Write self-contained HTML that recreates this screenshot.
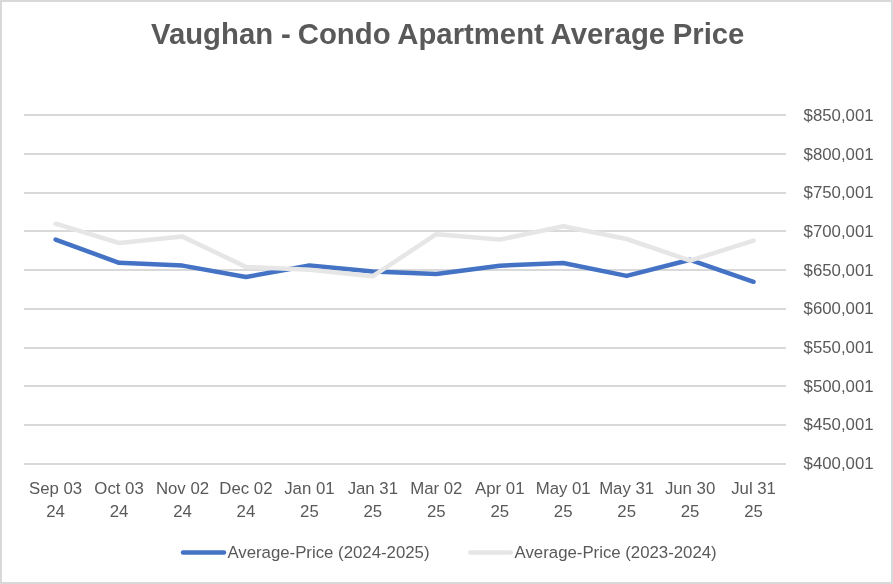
<!DOCTYPE html>
<html><head><meta charset="utf-8"><style>html,body{margin:0;padding:0;background:#fff;width:893px;height:584px;overflow:hidden}svg{display:block;will-change:transform}</style></head>
<body><svg width="893" height="584" viewBox="0 0 893 584"><rect x="0" y="0" width="893" height="584" fill="#d9d9d9"/><rect x="2" y="2" width="889" height="580" fill="#ffffff"/><text y="44" font-family='"Liberation Sans", sans-serif' font-weight="bold" font-size="29.3" fill="#595959"><tspan x="151.00">Vaughan </tspan><tspan x="281.10">- </tspan><tspan x="297.80">Condo </tspan><tspan x="397.30">Apartment </tspan><tspan x="550.60">Average </tspan><tspan x="672.70">Price </tspan></text><rect x="24" y="114" width="762" height="2" fill="#d9d9d9"/><rect x="24" y="153" width="762" height="2" fill="#d9d9d9"/><rect x="24" y="192" width="762" height="2" fill="#d9d9d9"/><rect x="24" y="230" width="762" height="2" fill="#d9d9d9"/><rect x="24" y="269" width="762" height="2" fill="#d9d9d9"/><rect x="24" y="308" width="762" height="2" fill="#d9d9d9"/><rect x="24" y="347" width="762" height="2" fill="#d9d9d9"/><rect x="24" y="385" width="762" height="2" fill="#d9d9d9"/><rect x="24" y="424" width="762" height="2" fill="#d9d9d9"/><rect x="24" y="463" width="762" height="2" fill="#d9d9d9"/><text x="803.6" y="120.90" font-family='"Liberation Sans", sans-serif' font-size="16.8" fill="#595959">$850,001</text><text x="803.6" y="159.56" font-family='"Liberation Sans", sans-serif' font-size="16.8" fill="#595959">$800,001</text><text x="803.6" y="198.22" font-family='"Liberation Sans", sans-serif' font-size="16.8" fill="#595959">$750,001</text><text x="803.6" y="236.88" font-family='"Liberation Sans", sans-serif' font-size="16.8" fill="#595959">$700,001</text><text x="803.6" y="275.54" font-family='"Liberation Sans", sans-serif' font-size="16.8" fill="#595959">$650,001</text><text x="803.6" y="314.20" font-family='"Liberation Sans", sans-serif' font-size="16.8" fill="#595959">$600,001</text><text x="803.6" y="352.86" font-family='"Liberation Sans", sans-serif' font-size="16.8" fill="#595959">$550,001</text><text x="803.6" y="391.52" font-family='"Liberation Sans", sans-serif' font-size="16.8" fill="#595959">$500,001</text><text x="803.6" y="430.18" font-family='"Liberation Sans", sans-serif' font-size="16.8" fill="#595959">$450,001</text><text x="803.6" y="468.84" font-family='"Liberation Sans", sans-serif' font-size="16.8" fill="#595959">$400,001</text><text x="55.60" y="494" text-anchor="middle" font-family='"Liberation Sans", sans-serif' font-size="16.8" fill="#595959">Sep 03</text><text x="55.60" y="516.6" text-anchor="middle" font-family='"Liberation Sans", sans-serif' font-size="16.8" fill="#595959">24</text><text x="119.05" y="494" text-anchor="middle" font-family='"Liberation Sans", sans-serif' font-size="16.8" fill="#595959">Oct 03</text><text x="119.05" y="516.6" text-anchor="middle" font-family='"Liberation Sans", sans-serif' font-size="16.8" fill="#595959">24</text><text x="182.50" y="494" text-anchor="middle" font-family='"Liberation Sans", sans-serif' font-size="16.8" fill="#595959">Nov 02</text><text x="182.50" y="516.6" text-anchor="middle" font-family='"Liberation Sans", sans-serif' font-size="16.8" fill="#595959">24</text><text x="245.95" y="494" text-anchor="middle" font-family='"Liberation Sans", sans-serif' font-size="16.8" fill="#595959">Dec 02</text><text x="245.95" y="516.6" text-anchor="middle" font-family='"Liberation Sans", sans-serif' font-size="16.8" fill="#595959">24</text><text x="309.40" y="494" text-anchor="middle" font-family='"Liberation Sans", sans-serif' font-size="16.8" fill="#595959">Jan 01</text><text x="309.40" y="516.6" text-anchor="middle" font-family='"Liberation Sans", sans-serif' font-size="16.8" fill="#595959">25</text><text x="372.85" y="494" text-anchor="middle" font-family='"Liberation Sans", sans-serif' font-size="16.8" fill="#595959">Jan 31</text><text x="372.85" y="516.6" text-anchor="middle" font-family='"Liberation Sans", sans-serif' font-size="16.8" fill="#595959">25</text><text x="436.30" y="494" text-anchor="middle" font-family='"Liberation Sans", sans-serif' font-size="16.8" fill="#595959">Mar 02</text><text x="436.30" y="516.6" text-anchor="middle" font-family='"Liberation Sans", sans-serif' font-size="16.8" fill="#595959">25</text><text x="499.75" y="494" text-anchor="middle" font-family='"Liberation Sans", sans-serif' font-size="16.8" fill="#595959">Apr 01</text><text x="499.75" y="516.6" text-anchor="middle" font-family='"Liberation Sans", sans-serif' font-size="16.8" fill="#595959">25</text><text x="563.20" y="494" text-anchor="middle" font-family='"Liberation Sans", sans-serif' font-size="16.8" fill="#595959">May 01</text><text x="563.20" y="516.6" text-anchor="middle" font-family='"Liberation Sans", sans-serif' font-size="16.8" fill="#595959">25</text><text x="626.65" y="494" text-anchor="middle" font-family='"Liberation Sans", sans-serif' font-size="16.8" fill="#595959">May 31</text><text x="626.65" y="516.6" text-anchor="middle" font-family='"Liberation Sans", sans-serif' font-size="16.8" fill="#595959">25</text><text x="690.10" y="494" text-anchor="middle" font-family='"Liberation Sans", sans-serif' font-size="16.8" fill="#595959">Jun 30</text><text x="690.10" y="516.6" text-anchor="middle" font-family='"Liberation Sans", sans-serif' font-size="16.8" fill="#595959">25</text><text x="753.55" y="494" text-anchor="middle" font-family='"Liberation Sans", sans-serif' font-size="16.8" fill="#595959">Jul 31</text><text x="753.55" y="516.6" text-anchor="middle" font-family='"Liberation Sans", sans-serif' font-size="16.8" fill="#595959">25</text><polyline points="55.60,239.60 119.05,262.80 182.50,265.60 245.95,277.00 309.40,265.50 372.85,271.40 436.30,274.00 499.75,265.70 563.20,263.00 626.65,275.90 690.10,259.80 753.55,281.80" fill="none" stroke="#4472c4" stroke-width="4.5" stroke-linecap="round" stroke-linejoin="round"/><polyline points="55.60,223.70 119.05,243.00 182.50,236.60 245.95,266.90 309.40,269.80 372.85,276.20 436.30,234.20 499.75,239.60 563.20,226.20 626.65,239.00 690.10,260.60 753.55,240.60" fill="none" stroke="#e7e6e6" stroke-width="4.5" stroke-linecap="round" stroke-linejoin="round"/><line x1="183" y1="552.6" x2="224" y2="552.6" stroke="#4472c4" stroke-width="4.5" stroke-linecap="round"/><text x="227.4" y="558.2" font-family='"Liberation Sans", sans-serif' font-size="16.8" fill="#595959">Average-Price (2024-2025)</text><line x1="470.3" y1="552.6" x2="510.7" y2="552.6" stroke="#e7e6e6" stroke-width="4.5" stroke-linecap="round"/><text x="514.6" y="558.2" font-family='"Liberation Sans", sans-serif' font-size="16.8" fill="#595959">Average-Price (2023-2024)</text></svg></body></html>
